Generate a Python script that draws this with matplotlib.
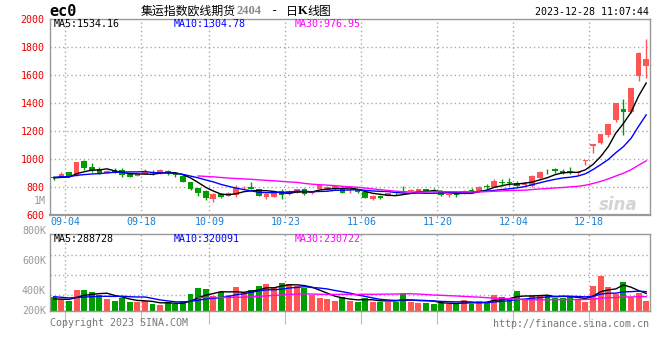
import pandas as pd
import matplotlib
matplotlib.use('Agg')
import matplotlib.pyplot as plt
from matplotlib.transforms import ScaledTranslation

# trading days Sep 1 - Dec 28 2023 (exchange holidays removed)
holidays = ['2023-09-29', '2023-10-02', '2023-10-03', '2023-10-04', '2023-10-05', '2023-10-06']
days = pd.bdate_range('2023-09-01', '2023-12-28').drop(pd.to_datetime(holidays))
tick_labels = ['09-04', '09-18', '10-09', '10-23', '11-06', '11-20', '12-04', '12-18']

open_ = [866, 872, 905, 881, 982, 940, 929, 898, 919, 921,
         896, 879, 890, 907, 898, 914, 900, 879, 831, 788,
         771, 712, 748, 734, 743, 788, 797, 783, 729, 729,
         769, 745, 757, 783, 753, 786, 776, 781, 791, 776,
         781, 765, 715, 736, 734, 748, 767, 769, 765, 783,
         776, 765, 741, 748, 750, 776, 765, 805, 800, 833,
         831, 824, 812, 807, 862, 907, 926, 912, 912, 898,
         986, 1093, 1114, 1169, 1276, 1352, 1336, 1590, 1664]
high = [878, 905, 907, 978, 993, 969, 943, 917, 936, 931,
        900, 891, 926, 919, 926, 919, 903, 886, 836, 793,
        776, 757, 757, 764, 812, 807, 833, 786, 752, 769,
        783, 779, 783, 790, 771, 814, 803, 807, 795, 788,
        784, 767, 738, 738, 755, 752, 805, 783, 785, 785,
        788, 776, 752, 752, 776, 788, 802, 819, 855, 852,
        859, 843, 831, 880, 910, 926, 936, 924, 943, 909,
        993, 1105, 1176, 1248, 1397, 1426, 1504, 1760, 1852]
low = [845, 867, 870, 876, 920, 907, 888, 895, 896, 867,
       867, 876, 888, 886, 893, 883, 871, 834, 776, 736,
       705, 690, 717, 731, 729, 781, 783, 731, 714, 724,
       714, 743, 755, 743, 750, 784, 774, 779, 752, 757,
       757, 719, 705, 714, 731, 740, 752, 764, 762, 762,
       760, 736, 729, 726, 748, 760, 762, 781, 798, 807,
       807, 800, 807, 800, 850, 890, 895, 893, 888, 881,
       952, 1038, 1105, 1157, 1264, 1169, 1324, 1555, 1574]
close = [860, 888, 872, 976, 936, 917, 896, 912, 903, 881,
         872, 888, 905, 895, 921, 895, 881, 836, 781, 757,
         722, 750, 726, 757, 793, 793, 786, 734, 750, 767,
         741, 771, 781, 750, 769, 810, 800, 802, 757, 786,
         762, 722, 736, 722, 753, 745, 762, 776, 783, 765,
         769, 738, 745, 738, 771, 769, 800, 798, 840, 826,
         826, 805, 829, 878, 907, 902, 912, 895, 895, 907,
         993, 1105, 1174, 1245, 1395, 1336, 1502, 1757, 1709]
# volume in thousands
volume_k = [235, 196, 163, 347, 347, 314, 264, 196, 163, 213,
            146, 146, 163, 112, 96, 146, 112, 163, 281, 381,
            365, 253, 314, 264, 398, 314, 347, 415, 449, 398,
            465, 449, 415, 381, 264, 219, 196, 163, 235, 163,
            152, 213, 152, 152, 152, 152, 281, 152, 135, 135,
            113, 135, 113, 113, 180, 113, 163, 146, 264, 230,
            213, 331, 196, 264, 264, 247, 213, 213, 247, 196,
            152, 415, 583, 398, 281, 482, 230, 297, 163]
# the 10 sessions before Sep 1 (needed for the moving averages)
prior_close = [820, 838, 870, 885, 880, 875, 872, 858, 860, 865]
prior_volume_k = [241, 290, 280, 270, 260, 270, 200, 190, 180, 175]

RED = '#ff5555'
GREEN = '#009d00'
GRID = '#aaaaaa'
MONO = 'DejaVu Sans Mono'
W, H = 660, 360

n = len(close)
x = list(range(n))
md = list(days.strftime('%m-%d'))
tick_pos = [md.index(t) + 0.5 for t in tick_labels]
up = [c >= o for o, c in zip(open_, close)]
colors = [RED if u else GREEN for u in up]

c_all = pd.Series(prior_close + close, dtype=float)
v_all = pd.Series(prior_volume_k + volume_k, dtype=float) * 1000
k = len(prior_close)
ma = {p: c_all.rolling(p).mean().iloc[k:].values for p in (5, 10, 30)}
vma = {p: v_all.rolling(p).mean().iloc[k:].values for p in (5, 10, 30)}
ma_colors = {5: 'black', 10: 'blue', 30: '#ff00ff'}

fig = plt.figure(figsize=(W / 100, H / 100), dpi=100)
fig.patch.set_facecolor('white')


def px_axes(left, top, right, bottom):
    return fig.add_axes([left / W, 1 - bottom / H, (right - left) / W, (bottom - top) / H])


def style(ax):
    for s in ax.spines.values():
        s.set_color('#999999')
        s.set_linewidth(1)
    ax.set_xlim(-0.5, n - 0.5)
    ax.set_xticks(tick_pos)
    for t in tick_pos:
        ax.axvline(t, color=GRID, lw=1, ls=(0, (1, 2)), zorder=0)


# ---- price panel
ax = px_axes(50, 18.5, 650, 214.7)
style(ax)
ax.set_ylim(600, 2000)
for y in range(800, 2000, 200):
    ax.axhline(y, color=GRID, lw=1, ls=(0, (1, 2)), zorder=0)
ax.spines['bottom'].set_linewidth(1.6)

ax.vlines(x, low, high, colors=colors, lw=1, zorder=2)
body_h = [max(abs(c - o), 6) for o, c in zip(open_, close)]
body_b = [min(o, c) for o, c in zip(open_, close)]
ax.bar(x, body_h, bottom=body_b, width=0.74, color=colors, lw=0, zorder=3)
for p in (5, 10, 30):
    ax.plot(x, ma[p], color=ma_colors[p], lw=1, zorder=4)

ax.set_yticks(range(600, 2001, 200))
ax.set_yticklabels([str(v) for v in range(600, 2001, 200)], color='#ee0000',
                   fontsize=7.2, family=MONO)
for lab in ax.get_yticklabels():
    lab.set_transform(lab.get_transform() + ScaledTranslation(0, 2.5 / 100, fig.dpi_scale_trans))
ax.tick_params(axis='y', length=0, pad=4)
ax.set_xticklabels(tick_labels, color='#1a7fd4', fontsize=7.2, family=MONO)
ax.tick_params(axis='x', length=2, color=GRID, pad=0)

# labels inside price panel
fig.text(54 / W, 1 - 24 / H, 'MA5:1534.16', color='black', fontsize=7.2, family=MONO, va='center')
fig.text(174 / W, 1 - 24 / H, 'MA10:1304.78', color='blue', fontsize=7.2, family=MONO, va='center')
fig.text(295 / W, 1 - 24 / H, 'MA30:976.95', color='#ff00ff', fontsize=7.2, family=MONO, va='center')
fig.text(46 / W, 1 - 201 / H, '1M', color='#999999', fontsize=7.2, family=MONO, va='center', ha='right')
fig.text(618 / W, 1 - 205 / H, 'sina', color='#d4d4d4', fontsize=12, style='italic',
         weight='bold', va='center', ha='center')

# ---- volume panel
ax2 = px_axes(50, 234.3, 650, 310.7)
style(ax2)
vtop = 1.283e6
ax2.set_ylim(0, vtop)
for y in (0.931e6, 0.595e6, 0.259e6):
    ax2.axhline(y, color=GRID, lw=1, ls=(0, (1, 2)), zorder=0)
ax2.bar(x, [v * 1000 for v in volume_k], width=0.78, color=colors, lw=0, zorder=2)
for p in (5, 10, 30):
    ax2.plot(x, vma[p], color=ma_colors[p], lw=1, zorder=3)
ax2.set_yticks([])
ax2.set_xticklabels([])
ax2.tick_params(axis='x', length=9, color='#bbbbbb')

for lbl, ypx in (('800K', 230.7), ('600K', 260.7), ('400K', 290.7), ('200K', 310.7)):
    fig.text(46 / W, 1 - ypx / H, lbl, color='#999999', fontsize=7.2, family=MONO, va='center', ha='right')
fig.text(54 / W, 1 - 238.5 / H, 'MA5:288728', color='black', fontsize=7.2, family=MONO, va='center')
fig.text(174 / W, 1 - 238.5 / H, 'MA10:320091', color='blue', fontsize=7.2, family=MONO, va='center')
fig.text(295 / W, 1 - 238.5 / H, 'MA30:230722', color='#ff00ff', fontsize=7.2, family=MONO, va='center')

# ---- header / footer
fig.text(49 / W, 1 - 12 / H, 'ec0', fontsize=11, weight='bold', family=MONO, va='center')
cjk = ['Noto Sans CJK SC', 'DejaVu Sans']
fig.text(141 / W, 1 - 11 / H, '集运指数欧线期货', fontsize=8.6, family=cjk, va='center')
fig.text(236 / W, 1 - 11 / H, '2404', fontsize=9, family='Liberation Serif', weight='bold',
         color='#888888', va='center')
fig.text(271 / W, 1 - 11 / H, '-', fontsize=8.6, family=MONO, va='center')
fig.text(286 / W, 1 - 11 / H, '日', fontsize=8.6, family=cjk, va='center')
fig.text(298 / W, 1 - 11 / H, 'K', fontsize=9, family='Liberation Serif', weight='bold', va='center')
fig.text(307 / W, 1 - 11 / H, '线图', fontsize=8.6, family=cjk, va='center')
fig.text(649 / W, 1 - 12 / H, '2023-12-28 11:07:44', fontsize=7.2, family=MONO, va='center', ha='right')
fig.text(50 / W, 1 - 323 / H, 'Copyright 2023 SINA.COM', color='#777777', fontsize=7.2, family=MONO, va='center')
fig.text(649 / W, 1 - 324 / H, 'http://finance.sina.com.cn', color='#777777', fontsize=7.2, family=MONO,
         va='center', ha='right')

fig.savefig('out.png', dpi=100)
